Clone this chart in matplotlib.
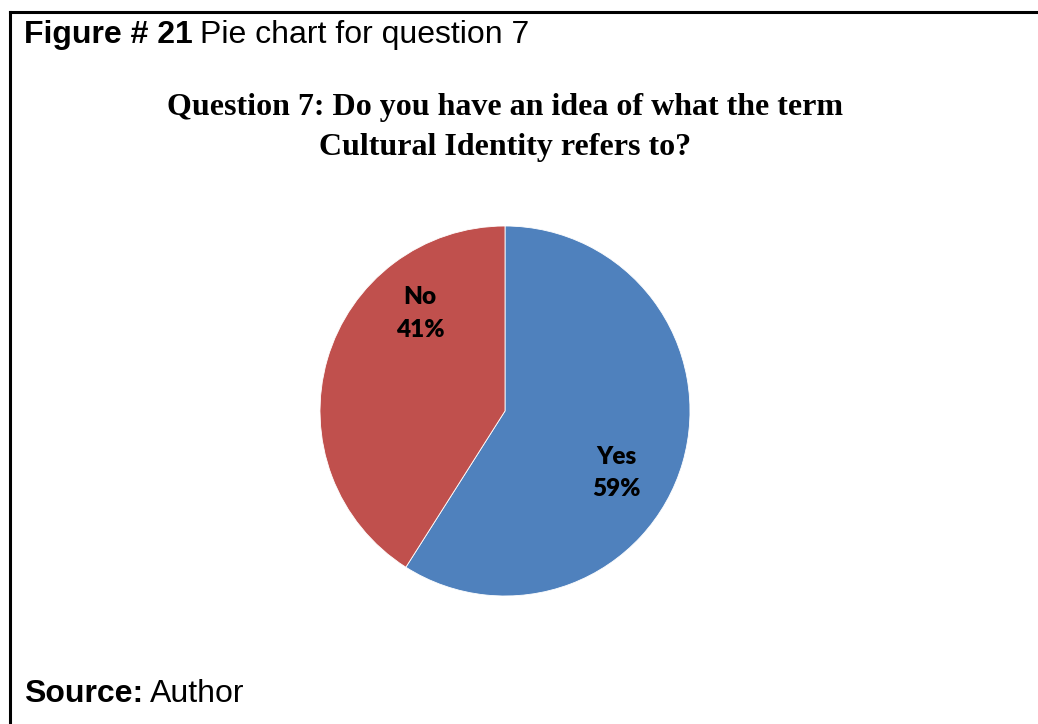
import matplotlib.pyplot as plt
from matplotlib.lines import Line2D

# answers to question 7
answers = ["Yes", "No"]
shares = [59, 41]
colours = ["#4F81BD", "#C0504D"]

W, H = 1038, 724
fig = plt.figure(figsize=(W / 100, H / 100), dpi=100)
fig.patch.set_facecolor("white")

def fx(px):
    return px / W

def fy(py):
    return 1 - py / H

# frame: top and left rules
fig.add_artist(Line2D([fx(10), 1.0], [fy(12), fy(12)], color="black", lw=2.2, transform=fig.transFigure))
fig.add_artist(Line2D([fx(10), fx(10)], [fy(12), 0.0], color="black", lw=2.2, transform=fig.transFigure))

# caption line
cap = fig.text(fx(24), fy(35), "Figure # 21", fontsize=23, fontweight="bold",
               family="Liberation Sans", va="center", ha="left")
fig.canvas.draw()
bb = cap.get_window_extent()
fig.text((bb.x1 + 7) / W, fy(35), "Pie chart for question 7", fontsize=23,
         family="Liberation Sans", va="center", ha="left")

# chart title
fig.text(fx(505), fy(108), "Question 7: Do you have an idea of what the term",
         fontsize=23, fontweight="bold", family="Liberation Serif", ha="center", va="center")
fig.text(fx(505), fy(147), "Cultural Identity refers to?",
         fontsize=23, fontweight="bold", family="Liberation Serif", ha="center", va="center")

# pie
left, right, top, bottom = 320, 690, 226, 596
ax = fig.add_axes([fx(left), fy(bottom), (right - left) / W, (bottom - top) / H])
ax.pie(shares, colors=colours, startangle=90, counterclock=False, radius=1,
       wedgeprops=dict(edgecolor="white", linewidth=0.6))
ax.set_xlim(-1, 1)
ax.set_ylim(-1, 1)
ax.set_aspect("equal")
ax.axis("off")

label_pos = {"Yes": (0.60, -0.335), "No": (-0.46, 0.527)}
for name, val in zip(answers, shares):
    x, y = label_pos[name]
    ax.text(x, y, f"{name}\n{val}%", ha="center", va="center", fontsize=17.5,
            fontweight="heavy", family="Lato", linespacing=1.6)

# source line
src = fig.text(fx(24), fy(694), "Source:", fontsize=23, fontweight="bold",
               family="Liberation Sans", va="center", ha="left")
fig.canvas.draw()
bb = src.get_window_extent()
fig.text((bb.x1 + 7) / W, fy(694), "Author", fontsize=23,
         family="Liberation Sans", va="center", ha="left")

fig.savefig("out.png", dpi=100, facecolor="white")
